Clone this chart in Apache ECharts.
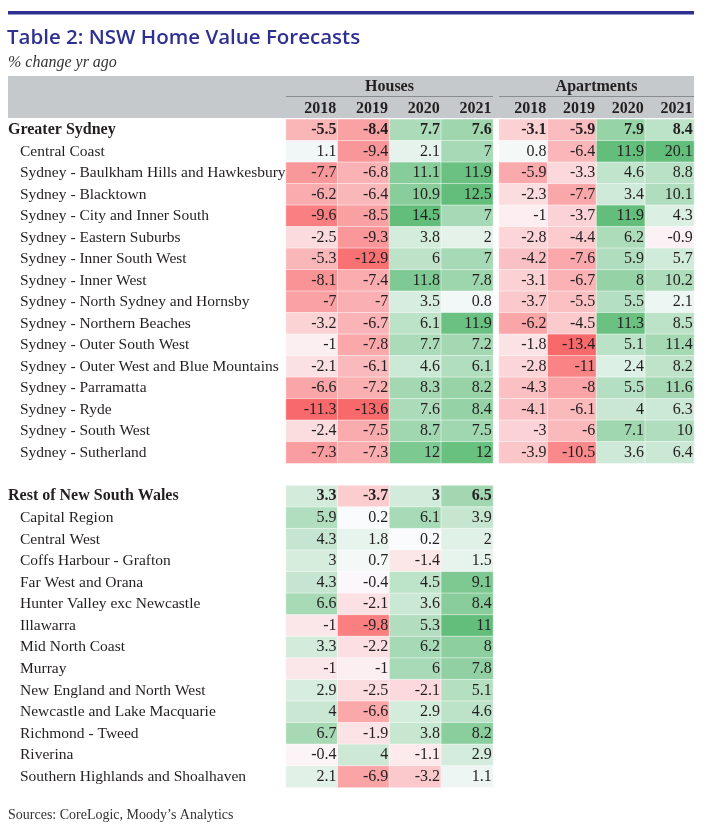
<!DOCTYPE html>
<html><head><meta charset="utf-8">
<script src="https://cdn.jsdelivr.net/npm/echarts@6/dist/echarts.min.js"></script>
<style>html,body{margin:0;padding:0;background:#fff}#c{width:705px;height:833px}</style>
</head><body><div id="c"></div>
<script>
// ---------- DATA ----------
const years = ['2018', '2019', '2020', '2021'];

const sydneyRegions = [
  'Greater Sydney', 'Central Coast', 'Sydney - Baulkham Hills and Hawkesbury', 'Sydney - Blacktown',
  'Sydney - City and Inner South', 'Sydney - Eastern Suburbs', 'Sydney - Inner South West', 'Sydney - Inner West',
  'Sydney - North Sydney and Hornsby', 'Sydney - Northern Beaches', 'Sydney - Outer South West',
  'Sydney - Outer West and Blue Mountains', 'Sydney - Parramatta', 'Sydney - Ryde', 'Sydney - South West',
  'Sydney - Sutherland'
];
const sydHouses2018 = [-5.5, 1.1, -7.7, -6.2, -9.6, -2.5, -5.3, -8.1, -7, -3.2, -1, -2.1, -6.6, -11.3, -2.4, -7.3];
const sydHouses2019 = [-8.4, -9.4, -6.8, -6.4, -8.5, -9.3, -12.9, -7.4, -7, -6.7, -7.8, -6.1, -7.2, -13.6, -7.5, -7.3];
const sydHouses2020 = [7.7, 2.1, 11.1, 10.9, 14.5, 3.8, 6, 11.8, 3.5, 6.1, 7.7, 4.6, 8.3, 7.6, 8.7, 12];
const sydHouses2021 = [7.6, 7, 11.9, 12.5, 7, 2, 7, 7.8, 0.8, 11.9, 7.2, 6.1, 8.2, 8.4, 7.5, 12];
const sydApts2018 = [-3.1, 0.8, -5.9, -2.3, -1, -2.8, -4.2, -3.1, -3.7, -6.2, -1.8, -2.8, -4.3, -4.1, -3, -3.9];
const sydApts2019 = [-5.9, -6.4, -3.3, -7.7, -3.7, -4.4, -7.6, -6.7, -5.5, -4.5, -13.4, -11, -8, -6.1, -6, -10.5];
const sydApts2020 = [7.9, 11.9, 4.6, 3.4, 11.9, 6.2, 5.9, 8, 5.5, 11.3, 5.1, 2.4, 5.5, 4, 7.1, 3.6];
const sydApts2021 = [8.4, 20.1, 8.8, 10.1, 4.3, -0.9, 5.7, 10.2, 2.1, 8.5, 11.4, 8.2, 11.6, 6.3, 10, 6.4];

const restRegions = [
  'Rest of New South Wales', 'Capital Region', 'Central West', 'Coffs Harbour - Grafton', 'Far West and Orana',
  'Hunter Valley exc Newcastle', 'Illawarra', 'Mid North Coast', 'Murray', 'New England and North West',
  'Newcastle and Lake Macquarie', 'Richmond - Tweed', 'Riverina', 'Southern Highlands and Shoalhaven'
];
const restHouses2018 = [3.3, 5.9, 4.3, 3, 4.3, 6.6, -1, 3.3, -1, 2.9, 4, 6.7, -0.4, 2.1];
const restHouses2019 = [-3.7, 0.2, 1.8, 0.7, -0.4, -2.1, -9.8, -2.2, -1, -2.5, -6.6, -1.9, 4, -6.9];
const restHouses2020 = [3, 6.1, 0.2, -1.4, 4.5, 3.6, 5.3, 6.2, 6, -2.1, 2.9, 3.8, -1.1, -3.2];
const restHouses2021 = [6.5, 3.9, 2, 1.5, 9.1, 8.4, 11, 8, 7.8, 5.1, 4.6, 8.2, 2.9, 1.1];

// ---------- STYLE ----------
const SERIF = '"Liberation Serif", "DejaVu Serif", serif';
const SANS = '"Open Sans", "Noto Sans", sans-serif';
const TXT = '#231f20';
const RED = [248, 105, 107], WHITE = [252, 252, 255], GREEN = [99, 190, 123];

// colour-scale ranges (red end, green end) per column
const scaleRanges = [
  [-11.3, 15], [-13.6, 15], [-13, 14.5], [-13, 12.5],
  [-10.5, 15], [-13.4, 15], [-13, 11.9], [-12, 20.1],
  [-7, 12], [-11.5, 13], [-9, 11], [-10, 11]
];

function mix(a, b, t) {
  return 'rgb(' + a.map((x, i) => Math.round(x + (b[i] - x) * t)).join(',') + ')';
}
function stops(lo, hi) {
  const n = 80, out = [];
  for (let i = 0; i <= n; i++) {
    const v = lo + (hi - lo) * i / n;
    out.push(v < 0 ? mix(WHITE, RED, Math.min(1, v / lo)) : mix(WHITE, GREEN, Math.min(1, v / hi)));
  }
  return out;
}

const columns = [
  [0, 0, sydHouses2018], [0, 1, sydHouses2019], [0, 2, sydHouses2020], [0, 3, sydHouses2021],
  [1, 0, sydApts2018], [1, 1, sydApts2019], [1, 2, sydApts2020], [1, 3, sydApts2021],
  [2, 0, restHouses2018], [2, 1, restHouses2019], [2, 2, restHouses2020], [2, 3, restHouses2021]
];

const series = columns.map(([g, c, vals]) => ({
  type: 'heatmap',
  xAxisIndex: g, yAxisIndex: g,
  data: vals.map((v, r) => r === 0 ? { value: [c, r, v], label: { fontWeight: 'bold' } } : [c, r, v]),
  label: {
    show: true, position: 'insideRight', distance: 2,
    fontFamily: SERIF, fontSize: 16, color: TXT,
    formatter: p => String(p.value[2])
  },
  itemStyle: { borderColor: 'rgba(255,255,255,0.5)', borderWidth: 1 },
  emphasis: { disabled: true }
}));

const visualMap = columns.map((col, i) => ({
  type: 'continuous', show: false, seriesIndex: i, dimension: 2,
  min: scaleRanges[i][0], max: scaleRanges[i][1],
  inRange: { color: stops(scaleRanges[i][0], scaleRanges[i][1]) }
}));

const grids = [
  { left: 286, width: 207, top: 119.3, height: 344 },
  { left: 499, width: 195, top: 119.3, height: 344 },
  { left: 286, width: 207, top: 485.5, height: 302 }
];

function yearAxis(i, show) {
  const w = grids[i].width / 4;
  return {
    type: 'category', gridIndex: i, data: years, position: 'top',
    axisLine: { show: false }, axisTick: { show: false }, splitLine: { show: false },
    axisLabel: {
      show: show, interval: 0, margin: 2,
      formatter: v => '{y|' + v + '}',
      rich: { y: { width: w - 3, align: 'right', fontFamily: SERIF, fontWeight: 'bold', fontSize: 16, color: TXT } }
    }
  };
}
function regionAxis(i, data, show) {
  return {
    type: 'category', gridIndex: i, data: data, inverse: true,
    axisLine: { show: false }, axisTick: { show: false }, splitLine: { show: false },
    axisLabel: {
      show: show, interval: 0, align: 'left', margin: 278,
      formatter: (v, idx) => idx === 0 ? '{g|' + v + '}' : '{s|' + v + '}',
      rich: {
        g: { fontFamily: SERIF, fontWeight: 'bold', fontSize: 16, color: TXT },
        s: { fontFamily: SERIF, fontSize: 15.5, color: TXT, padding: [0, 0, 0, 12] }
      }
    }
  };
}

const option = {
  animation: false,
  backgroundColor: '#fff',
  grid: grids,
  xAxis: [yearAxis(0, true), yearAxis(1, true), yearAxis(2, false)],
  yAxis: [regionAxis(0, sydneyRegions, true), regionAxis(1, sydneyRegions, false), regionAxis(2, restRegions, true)],
  visualMap: visualMap,
  series: series,
  graphic: [
    { type: 'rect', z: -10, shape: { x: 8, y: 11, width: 686, height: 3.5 }, style: { fill: '#2e3192' } },
    { type: 'text', left: 7, top: 28, style: { text: 'Table 2: NSW Home Value Forecasts', font: '600 20.5px ' + SANS, fill: '#2e3192' } },
    { type: 'text', left: 8, top: 55, style: { text: '% change yr ago', font: 'italic 16px ' + SERIF, fill: '#333' } },
    { type: 'rect', z: -10, shape: { x: 8, y: 76, width: 686, height: 42 }, style: { fill: '#c6c9cc' } },
    { type: 'text', z: 10, x: 389.5, y: 87, style: { text: 'Houses', font: 'bold 16px ' + SERIF, fill: TXT, align: 'center', verticalAlign: 'middle' } },
    { type: 'text', z: 10, x: 596.5, y: 87, style: { text: 'Apartments', font: 'bold 16px ' + SERIF, fill: TXT, align: 'center', verticalAlign: 'middle' } },
    { type: 'line', z: 10, shape: { x1: 286, y1: 96.5, x2: 493, y2: 96.5 }, style: { stroke: '#8a8d90', lineWidth: 1 } },
    { type: 'line', z: 10, shape: { x1: 499, y1: 96.5, x2: 694, y2: 96.5 }, style: { stroke: '#8a8d90', lineWidth: 1 } },
    { type: 'text', left: 8, top: 808, style: { text: 'Sources: CoreLogic, Moody\u2019s Analytics', font: '14px ' + SERIF, fill: '#333' } }
  ]
};

const chart = echarts.init(document.getElementById('c'), null, { renderer: 'canvas' });
chart.setOption(option);
</script>
</body></html>
